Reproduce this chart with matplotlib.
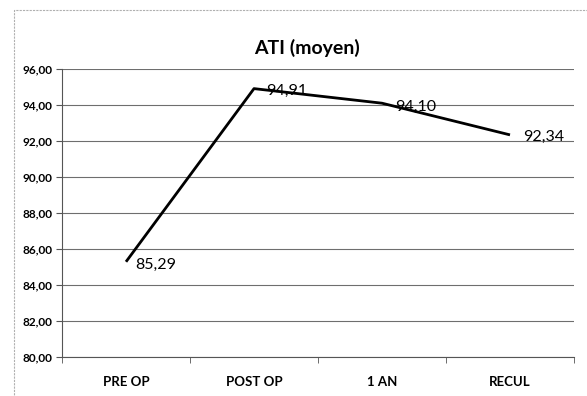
import matplotlib
matplotlib.use("Agg")
import matplotlib.pyplot as plt
from matplotlib.patches import Rectangle
from matplotlib.ticker import FixedLocator, FuncFormatter

categories = ["PRE OP", "POST OP", "1 AN", "RECUL"]
values = [85.29, 94.91, 94.10, 92.34]
value_labels = ["85,29", "94,91", "94,10", "92,34"]
yticks = [80, 82, 84, 86, 88, 90, 92, 94, 96]

plt.rcParams['font.family'] = ['Lato', 'DejaVu Sans']

fig = plt.figure(figsize=(5.87, 3.96), dpi=100)
fig.patch.set_facecolor('white')
# outer chart frame
fig.patches.append(Rectangle((14/587, -0.01), 1.0, (396-10)/396 + 0.01, transform=fig.transFigure,
                             fill=False, edgecolor='#b0b0b0', linewidth=0.8, linestyle=(0, (2, 1))))

ax = fig.add_axes([62/587, 39/396, 512/587, 288/396])
x = list(range(len(categories)))
ax.plot(x, values, color='black', linewidth=2, solid_capstyle='butt', zorder=3)

ax.set_xlim(-0.5, len(categories) - 0.5)
ax.set_ylim(80, 96)
ax.set_yticks(yticks)
ax.yaxis.set_major_formatter(FuncFormatter(lambda v, p: f"{v:.2f}".replace('.', ',')))
ax.grid(axis='y', color='#6e6e6e', linewidth=0.8)
ax.set_axisbelow(True)

ax.set_xticks(x)
ax.set_xticklabels(categories, fontsize=9.5, fontweight='bold')
ax.xaxis.set_minor_locator(FixedLocator([i - 0.5 for i in range(len(categories) + 1)]))
ax.tick_params(axis='x', which='major', length=0, pad=14)
ax.tick_params(axis='x', which='minor', length=4, direction='out', color='#555555')
ax.tick_params(axis='y', length=4, direction='out', labelsize=8.5, color='#555555', pad=3)
for lab in ax.get_yticklabels():
    lab.set_fontweight('bold')

for s in ['top', 'right']:
    ax.spines[s].set_visible(False)
ax.spines['left'].set_color('#555555')
ax.spines['bottom'].set_color('#555555')
ax.spines['left'].set_linewidth(0.8)
ax.spines['bottom'].set_linewidth(0.8)

offsets = [(7, -2.5), (9, -1.5), (9.5, -2.5), (9.5, -1.5)]
for xi, v, lab, off in zip(x, values, value_labels, offsets):
    ax.annotate(lab, (xi, v), xytext=off, textcoords='offset points',
                fontsize=11.5, ha='left', va='center', color='black')

fig.text(307/587, 1 - 48/396, "ATI (moyen)", fontsize=14, fontweight='bold', ha='center', va='center')

fig.savefig("out.png", dpi=100)
